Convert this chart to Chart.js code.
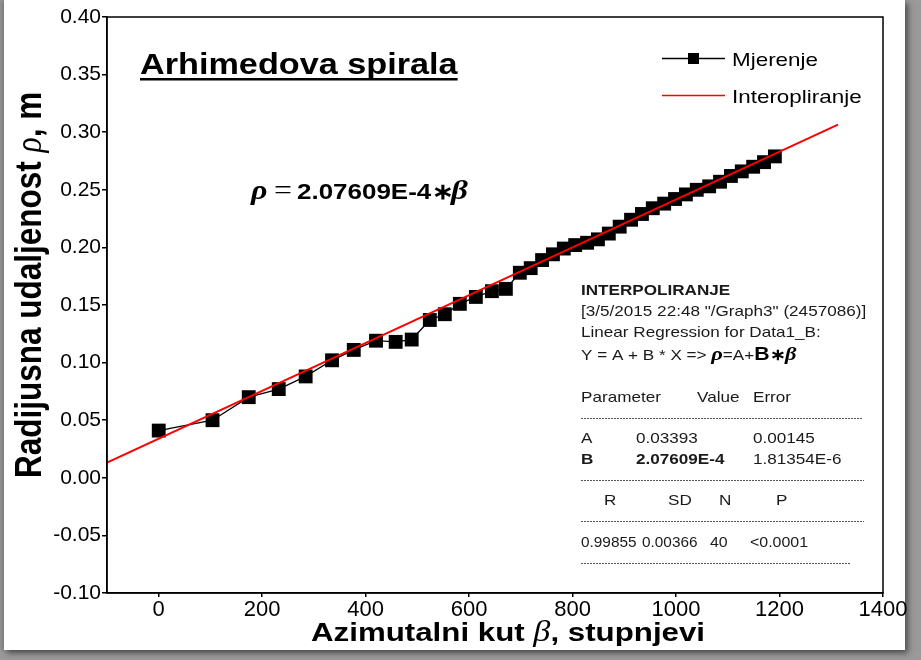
<!DOCTYPE html>
<html>
<head>
<meta charset="utf-8">
<script src="https://cdn.jsdelivr.net/npm/chart.js@4.4.1/dist/chart.umd.min.js"></script>
<style>
  html, body { margin: 0; padding: 0; background: #ffffff; }
  #wrap { position: relative; width: 921px; height: 660px; overflow: hidden; background: #9a9a9a; }
  #card { position: absolute; left: 4px; top: 0; width: 901px; height: 650px; background: #fff;
          box-shadow: 3px 3px 6px rgba(0,0,0,0.5), -3px 0 5px rgba(0,0,0,0.15); }
  #c { position: absolute; left: 0; top: 0; }
</style>
</head>
<body>
<div id="wrap">
  <div id="card"></div>
  <canvas id="c" width="921" height="660"></canvas>
</div>
<script>
// ---- data ----
const betaDeg = [0, 104, 174, 232, 284, 335, 377, 420, 458, 489,
                 524, 553, 582, 613, 644, 671,
                 698, 719, 741, 762, 783, 805, 828, 849, 870, 891,
                 913, 934, 955, 977, 998, 1019, 1040, 1064, 1085, 1106,
                 1127, 1149, 1170, 1191];
const rhoM = [0.041, 0.050, 0.070, 0.077, 0.088, 0.102, 0.111, 0.119, 0.118, 0.120,
              0.137, 0.142, 0.151, 0.157, 0.162, 0.164,
              0.178, 0.182, 0.189, 0.194, 0.199, 0.202, 0.204, 0.207, 0.212, 0.218,
              0.224, 0.229, 0.234, 0.238, 0.242, 0.246, 0.250, 0.253, 0.257, 0.262,
              0.266, 0.270, 0.274, 0.279];
const fitBeta = [-100, 1313];
const fitRho = [0.0132, 0.3065];
const xTicks = [0, 200, 400, 600, 800, 1000, 1200, 1400];
const yTicks = [-0.10, -0.05, 0.00, 0.05, 0.10, 0.15, 0.20, 0.25, 0.30, 0.35, 0.40];
const seriesNames = ['Mjerenje', 'Interopliranje'];

const SX = 1.18; // horizontal stretch of the reference's text
const SANS = '"Liberation Sans", Arial, sans-serif';
const SERIF = '"Liberation Serif", "Times New Roman", serif';

function segs(ctx, x, y, list, sx) {
  sx = sx || SX;
  ctx.save();
  ctx.translate(x, y);
  ctx.scale(sx, 1);
  ctx.textBaseline = 'alphabetic';
  ctx.textAlign = 'left';
  let cx = 0;
  for (const s of list) {
    ctx.font = s.f;
    ctx.fillStyle = s.c || '#000';
    if (s.at !== undefined) cx = (s.at - x) / sx;
    ctx.fillText(s.t, cx, 0);
    cx += ctx.measureText(s.t).width;
  }
  ctx.restore();
  return cx * sx;
}
function dashLine(ctx, x1, x2, y) {
  ctx.save();
  ctx.strokeStyle = '#555';
  ctx.lineWidth = 1;
  ctx.setLineDash([2, 1]);
  ctx.beginPath();
  ctx.moveTo(x1, y + 0.5);
  ctx.lineTo(x2, y + 0.5);
  ctx.stroke();
  ctx.restore();
}

const decor = {
  id: 'decor',
  afterDatasetsDraw(chart) {
    const ctx = chart.ctx;
    const a = chart.chartArea;
    ctx.save();
    ctx.strokeStyle = '#000';
    ctx.lineWidth = 1.5;
    ctx.strokeRect(a.left, a.top, a.right - a.left, a.bottom - a.top);
    ctx.restore();
  },
  afterDraw(chart) {
    const ctx = chart.ctx;
    // Title
    const tw = segs(ctx, 140, 74, [{t: 'Arhimedova spirala', f: 'bold 29px ' + SANS}]);
    ctx.save();
    ctx.fillStyle = '#000';
    ctx.fillRect(140, 78, tw, 2.5);
    ctx.restore();
    // equation
    segs(ctx, 251, 199, [
      {t: '\u03C1', f: 'italic bold 27px ' + SERIF},
      {t: '=', f: '27px ' + SERIF, at: 274},
      {t: '2.07609E-4', f: 'bold 22px ' + SANS, at: 297},
      {t: '\u2217', f: 'bold 22px ' + SANS, at: 432},
      {t: '\u03B2', f: 'italic bold 28px ' + SERIF, at: 451}
    ]);
    // legend
    ctx.save();
    ctx.strokeStyle = '#000';
    ctx.lineWidth = 1.5;
    ctx.beginPath(); ctx.moveTo(662, 58.5); ctx.lineTo(725, 58.5); ctx.stroke();
    ctx.fillStyle = '#000';
    ctx.fillRect(688, 53, 11, 11);
    ctx.strokeStyle = '#ff0000';
    ctx.beginPath(); ctx.moveTo(662, 95.5); ctx.lineTo(725, 95.5); ctx.stroke();
    ctx.restore();
    segs(ctx, 732, 66, [{t: seriesNames[0], f: '19px ' + SANS}]);
    segs(ctx, 732, 103, [{t: seriesNames[1], f: '19px ' + SANS}]);
    // axis titles
    segs(ctx, 311, 641, [
      {t: 'Azimutalni kut ', f: 'bold 26.5px ' + SANS},
      {t: '\u03B2', f: 'italic 29px ' + SERIF},
      {t: ', stupnjevi', f: 'bold 26.5px ' + SANS}
    ]);
    ctx.save();
    ctx.translate(41, 478);
    ctx.rotate(-Math.PI / 2);
    ctx.scale(1, SX);
    ctx.textBaseline = 'alphabetic';
    let cx = 0;
    const yt = [
      {t: 'Radijusna udaljenost ', f: 'bold 31.5px ' + SANS},
      {t: '\u03C1', f: 'italic 31.5px ' + SERIF},
      {t: ', m', f: 'bold 31.5px ' + SANS}
    ];
    for (const s of yt) { ctx.font = s.f; ctx.fillStyle = '#000'; ctx.fillText(s.t, cx, 0); cx += ctx.measureText(s.t).width; }
    ctx.restore();
    // regression report box
    const L = 581;
    const F = '14.5px ' + SANS, FB = 'bold 14.5px ' + SANS;
    const col = '#1a1a1a';
    segs(ctx, L, 295, [{t: 'INTERPOLIRANJE', f: FB, c: col}]);
    segs(ctx, L, 316, [{t: '[3/5/2015 22:48 "/Graph3" (2457086)]', f: F, c: col}]);
    segs(ctx, L, 337, [{t: 'Linear Regression for Data1_B:', f: F, c: col}]);
    segs(ctx, L, 360, [
      {t: 'Y = A + B * X => ', f: F, c: col},
      {t: '\u03C1', f: 'italic bold 19px ' + SERIF},
      {t: '=', f: F, c: col},
      {t: 'A+', f: F, c: col},
      {t: 'B', f: 'bold 18px ' + SANS},
      {t: '\u2217', f: 'bold 16px ' + SANS},
      {t: '\u03B2', f: 'italic bold 19px ' + SERIF}
    ]);
    segs(ctx, L, 402, [{t: 'Parameter', f: F, c: col}]);
    segs(ctx, 697, 402, [{t: 'Value', f: F, c: col}]);
    segs(ctx, 753, 402, [{t: 'Error', f: F, c: col}]);
    dashLine(ctx, L, 862, 418);
    segs(ctx, L, 443, [{t: 'A', f: F, c: col}]);
    segs(ctx, 636, 443, [{t: '0.03393', f: F, c: col}]);
    segs(ctx, 753, 443, [{t: '0.00145', f: F, c: col}]);
    segs(ctx, L, 464, [{t: 'B', f: FB, c: col}]);
    segs(ctx, 636, 464, [{t: '2.07609E-4', f: FB, c: col}]);
    segs(ctx, 753, 464, [{t: '1.81354E-6', f: F, c: col}]);
    dashLine(ctx, L, 864, 480);
    segs(ctx, 604, 505, [{t: 'R', f: F, c: col}]);
    segs(ctx, 668, 505, [{t: 'SD', f: F, c: col}]);
    segs(ctx, 719, 505, [{t: 'N', f: F, c: col}]);
    segs(ctx, 776, 505, [{t: 'P', f: F, c: col}]);
    dashLine(ctx, L, 864, 521);
    segs(ctx, L, 547, [{t: '0.99855', f: F, c: col}], 1.06);
    segs(ctx, 642, 547, [{t: '0.00366', f: F, c: col}], 1.06);
    segs(ctx, 710, 547, [{t: '40', f: F, c: col}], 1.1);
    segs(ctx, 750, 547, [{t: '<0.0001', f: F, c: col}], 1.1);
    dashLine(ctx, L, 851, 563);
  }
};

new Chart(document.getElementById('c'), {
  type: 'scatter',
  data: {
    datasets: [
      {
        label: seriesNames[0],
        data: betaDeg.map((b, i) => ({x: b, y: rhoM[i]})),
        showLine: true,
        borderColor: '#000',
        borderWidth: 1.3,
        backgroundColor: '#000',
        pointStyle: 'rect',
        pointRadius: 9.8,
        pointBorderWidth: 0,
        pointHoverRadius: 9.8,
        order: 2
      },
      {
        label: seriesNames[1],
        data: fitBeta.map((b, i) => ({x: b, y: fitRho[i]})),
        showLine: true,
        borderColor: '#ff0000',
        borderWidth: 2,
        pointRadius: 0,
        order: 1
      }
    ]
  },
  options: {
    responsive: false,
    animation: false,
    events: [],
    layout: { padding: { top: 17, right: 38, left: 0, bottom: 0 } },
    plugins: { legend: { display: false }, tooltip: { enabled: false }, title: { display: false } },
    scales: {
      x: {
        type: 'linear',
        min: -100, max: 1400,
        afterBuildTicks: s => { s.ticks = xTicks.map(v => ({value: v})); },
        afterFit: s => { s.height = 67; },
        grid: { drawOnChartArea: false, drawTicks: true, tickLength: 4, color: '#000', lineWidth: 1.5 },
        border: { display: true, color: '#000', width: 1.5 },
        ticks: { color: '#000', font: { family: SANS, size: 22 }, padding: 0, maxRotation: 0, autoSkip: false,
                 callback: v => String(v) }
      },
      y: {
        type: 'linear',
        min: -0.1, max: 0.4,
        afterBuildTicks: s => { s.ticks = yTicks.map(v => ({value: v})); },
        afterFit: s => { s.width = 107; },
        grid: { drawOnChartArea: false, drawTicks: true, tickLength: 5, color: '#000', lineWidth: 1.5 },
        border: { display: true, color: '#000', width: 1.5 },
        ticks: { color: '#000', font: { family: SANS, size: 21 }, padding: 1, autoSkip: false,
                 callback: v => Number(v).toFixed(2) }
      }
    }
  },
  plugins: [decor]
});
</script>
</body>
</html>
